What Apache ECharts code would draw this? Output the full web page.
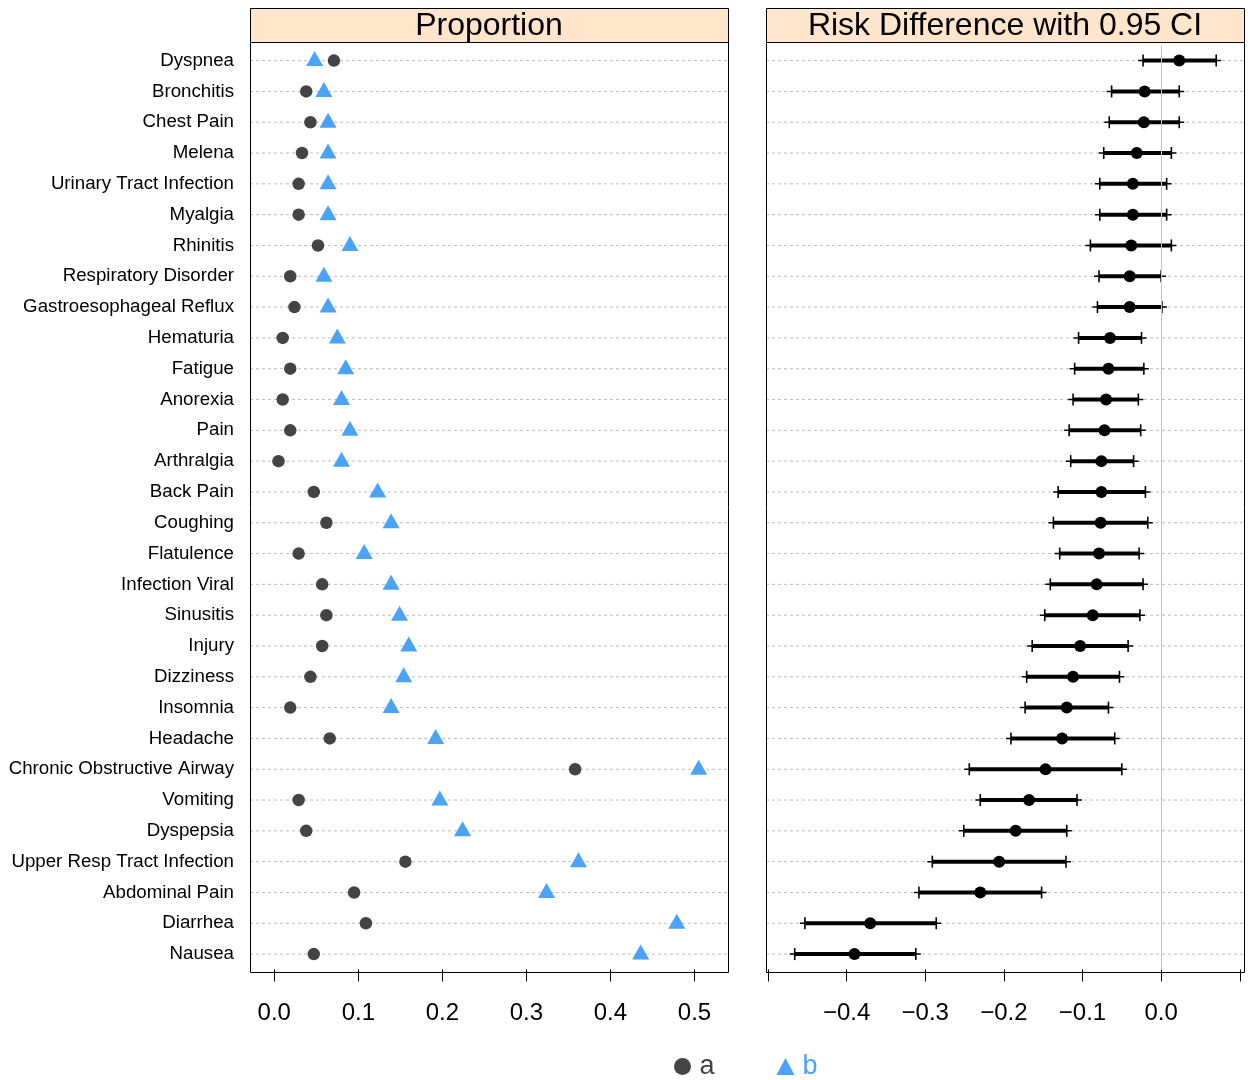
<!DOCTYPE html>
<html>
<head>
<meta charset="utf-8">
<title>Adverse events: proportion and risk difference</title>
<script src="https://cdn.jsdelivr.net/npm/echarts@6/dist/echarts.min.js"></script>
<style>
  html, body { margin: 0; padding: 0; background: #ffffff; }
  #chart { width: 1248px; height: 1080px; }
</style>
</head>
<body>
<div id="chart"></div>
<script>
// Adverse event terms, top to bottom
const categories = [
  'Dyspnea', 'Bronchitis', 'Chest Pain', 'Melena', 'Urinary Tract Infection',
  'Myalgia', 'Rhinitis', 'Respiratory Disorder', 'Gastroesophageal Reflux', 'Hematuria',
  'Fatigue', 'Anorexia', 'Pain', 'Arthralgia', 'Back Pain',
  'Coughing', 'Flatulence', 'Infection Viral', 'Sinusitis', 'Injury',
  'Dizziness', 'Insomnia', 'Headache', 'Chronic Obstructive Airway', 'Vomiting',
  'Dyspepsia', 'Upper Resp Tract Infection', 'Abdominal Pain', 'Diarrhea', 'Nausea'
];

// Proportion of subjects with each event, group a and group b
const propA = [0.071, 0.038, 0.043, 0.033, 0.029, 0.029, 0.052, 0.019, 0.024, 0.010,
               0.019, 0.010, 0.019, 0.005, 0.047, 0.062, 0.029, 0.057, 0.062, 0.057,
               0.043, 0.019, 0.066, 0.358, 0.029, 0.038, 0.156, 0.095, 0.109, 0.047];
const propB = [0.048, 0.059, 0.064, 0.064, 0.064, 0.064, 0.090, 0.059, 0.064, 0.075,
               0.085, 0.080, 0.090, 0.080, 0.123, 0.139, 0.107, 0.139, 0.149, 0.160,
               0.154, 0.139, 0.192, 0.505, 0.197, 0.224, 0.362, 0.324, 0.479, 0.436];

// Risk difference (a - b) with 0.95 confidence limits
const riskDiff = [0.023, -0.021, -0.022, -0.031, -0.036, -0.036, -0.038, -0.040, -0.040, -0.065,
                  -0.067, -0.070, -0.072, -0.076, -0.076, -0.077, -0.079, -0.082, -0.087, -0.103,
                  -0.112, -0.120, -0.126, -0.147, -0.168, -0.185, -0.206, -0.230, -0.370, -0.390];
const ciLow = [-0.023, -0.063, -0.066, -0.073, -0.078, -0.078, -0.090, -0.079, -0.081, -0.105,
               -0.110, -0.112, -0.117, -0.115, -0.131, -0.137, -0.129, -0.141, -0.148, -0.164,
               -0.171, -0.173, -0.191, -0.244, -0.230, -0.251, -0.291, -0.308, -0.453, -0.466];
const ciHigh = [0.070, 0.023, 0.023, 0.013, 0.007, 0.007, 0.013, 0.000, 0.001, -0.025,
                -0.022, -0.029, -0.026, -0.035, -0.020, -0.017, -0.028, -0.023, -0.027, -0.042,
                -0.053, -0.067, -0.059, -0.050, -0.107, -0.120, -0.121, -0.152, -0.286, -0.312];

// Axis ticks and labels
const propTicks = [0.0, 0.1, 0.2, 0.3, 0.4, 0.5];
const diffTicks = [-0.5, -0.4, -0.3, -0.2, -0.1, 0.0, 0.1];
const diffLabels = [-0.4, -0.3, -0.2, -0.1, 0.0];

const panelTitles = ['Proportion', 'Risk Difference with 0.95 CI'];
const groupNames = ['a', 'b'];

const FONT = '"Liberation Sans", Arial, Helvetica, sans-serif';
const COLOR_A = '#444444';
const COLOR_B = '#4AA3F7';
const STRIP_FILL = '#FFE5CC';

// Panel geometry
const panelTop = 42, panelBottom = 972;
const panels = [{ x: 250, w: 478 }, { x: 766, w: 478 }];
const rowStep = 30.81;
const gridTop = 60.6 - rowStep / 2;
const gridHeight = rowStep * categories.length;

const fmt = v => (Math.abs(v) < 1e-9 ? '0.0' : v.toFixed(1).replace('-', '\u2212'));

function guideLines(params, api) {
  const cs = params.coordSys;
  const y = api.coord([api.value(0), api.value(1)])[1];
  return {
    type: 'line',
    shape: { x1: cs.x, y1: y, x2: cs.x + cs.width, y2: y },
    style: { stroke: '#BDBDBD', lineWidth: 1, lineDash: [3, 3] }
  };
}

function errorBar(params, api) {
  const lo = api.coord([api.value(0), api.value(1)]);
  const hi = api.coord([api.value(2), api.value(1)]);
  const y = lo[1];
  const cap = 6;
  const black = '#000000';
  return {
    type: 'group',
    children: [
      { type: 'line', shape: { x1: lo[0] - 5, y1: y, x2: hi[0] + 5, y2: y },
        style: { stroke: black, lineWidth: 1.5 } },
      { type: 'line', shape: { x1: lo[0], y1: y, x2: hi[0], y2: y },
        style: { stroke: black, lineWidth: 4 } },
      { type: 'line', shape: { x1: lo[0], y1: y - cap, x2: lo[0], y2: y + cap },
        style: { stroke: black, lineWidth: 1.6 } },
      { type: 'line', shape: { x1: hi[0], y1: y - cap, x2: hi[0], y2: y + cap },
        style: { stroke: black, lineWidth: 1.6 } }
    ]
  };
}

const chart = echarts.init(document.getElementById('chart'), null, { renderer: 'canvas' });

const graphics = [];
panels.forEach((p, k) => {
  graphics.push({
    type: 'rect', z: 50, silent: true,
    shape: { x: p.x + 0.5, y: 8.5, width: p.w, height: panelTop - 8 },
    style: { fill: STRIP_FILL, stroke: '#000', lineWidth: 1 }
  });
  graphics.push({
    type: 'text', z: 51, silent: true,
    x: p.x + p.w / 2, y: (8 + panelTop) / 2 + 1,
    style: { text: panelTitles[k], font: '32px ' + FONT, fill: '#000',
             align: 'center', verticalAlign: 'middle' }
  });
  graphics.push({
    type: 'rect', z: 50, silent: true,
    shape: { x: p.x + 0.5, y: panelTop + 0.5, width: p.w, height: panelBottom - panelTop },
    style: { fill: 'none', stroke: '#000', lineWidth: 1 }
  });
});

const indexed = arr => arr.map((v, i) => [v, i]);

chart.setOption({
  animation: false,
  backgroundColor: '#ffffff',
  textStyle: { fontFamily: FONT },
  grid: panels.map(p => ({
    left: p.x, width: p.w + 0.5, top: gridTop, height: gridHeight, containLabel: false
  })),
  xAxis: [
    {
      type: 'value', gridIndex: 0, position: 'bottom',
      min: -0.0289, max: 0.5405,
      axisLine: { show: false },
      splitLine: { show: false },
      axisTick: { show: true, length: 12, customValues: propTicks,
                  lineStyle: { color: '#000', width: 1 } },
      axisLabel: { customValues: propTicks, formatter: fmt, margin: 32,
                   fontSize: 24, color: '#000', fontFamily: FONT }
    },
    {
      type: 'value', gridIndex: 1, position: 'bottom',
      min: -0.5025, max: 0.106,
      axisLine: { show: false },
      splitLine: { show: false },
      axisTick: { show: true, length: 12, customValues: diffTicks,
                  lineStyle: { color: '#000', width: 1 } },
      axisLabel: { customValues: diffLabels, formatter: fmt, margin: 32,
                   fontSize: 24, color: '#000', fontFamily: FONT }
    }
  ],
  yAxis: [
    {
      type: 'category', gridIndex: 0, inverse: true, data: categories,
      axisLine: { show: false }, axisTick: { show: false }, splitLine: { show: false },
      axisLabel: { fontSize: 18.7, color: '#000', margin: 16, fontFamily: FONT, interval: 0 }
    },
    {
      type: 'category', gridIndex: 1, inverse: true, data: categories,
      axisLine: { show: false }, axisTick: { show: false }, splitLine: { show: false },
      axisLabel: { show: false }
    }
  ],
  legend: {
    data: [
      { name: groupNames[0], icon: 'circle', textStyle: { color: COLOR_A } },
      { name: groupNames[1], icon: 'triangle', textStyle: { color: COLOR_B } }
    ],
    left: 669, top: 1048,
    itemWidth: 18, itemHeight: 17, itemGap: 62,
    textStyle: { fontSize: 27, fontFamily: FONT, padding: [0, 0, 0, 3] },
    selectedMode: false
  },
  graphic: graphics,
  series: [
    {
      name: 'guides-left', type: 'custom', xAxisIndex: 0, yAxisIndex: 0, z: 1, silent: true,
      renderItem: guideLines, encode: { x: 0, y: 1 },
      data: categories.map((c, i) => [0, i])
    },
    {
      name: 'guides-right', type: 'custom', xAxisIndex: 1, yAxisIndex: 1, z: 1, silent: true,
      renderItem: guideLines, encode: { x: 0, y: 1 },
      data: categories.map((c, i) => [0, i]),
      markLine: {
        silent: true, symbol: 'none', label: { show: false },
        lineStyle: { color: '#C4C4C4', width: 1, type: 'solid' },
        data: [{ xAxis: 0 }]
      }
    },
    {
      name: groupNames[0], type: 'scatter', xAxisIndex: 0, yAxisIndex: 0, z: 3,
      symbol: 'circle', symbolSize: 12.5,
      itemStyle: { color: COLOR_A, opacity: 1 },
      data: indexed(propA)
    },
    {
      name: groupNames[1], type: 'scatter', xAxisIndex: 0, yAxisIndex: 0, z: 3,
      symbol: 'triangle', symbolSize: [17, 15], symbolOffset: [0, -2],
      itemStyle: { color: COLOR_B, opacity: 1 },
      data: indexed(propB)
    },
    {
      name: 'ci', type: 'custom', xAxisIndex: 1, yAxisIndex: 1, z: 2,
      renderItem: errorBar, encode: { x: [0, 2], y: 1 },
      data: categories.map((c, i) => [ciLow[i], i, ciHigh[i]])
    },
    {
      name: 'risk difference', type: 'scatter', xAxisIndex: 1, yAxisIndex: 1, z: 4,
      symbol: 'circle', symbolSize: 12,
      itemStyle: { color: '#000000', opacity: 1 },
      data: indexed(riskDiff)
    }
  ]
});
</script>
</body>
</html>
